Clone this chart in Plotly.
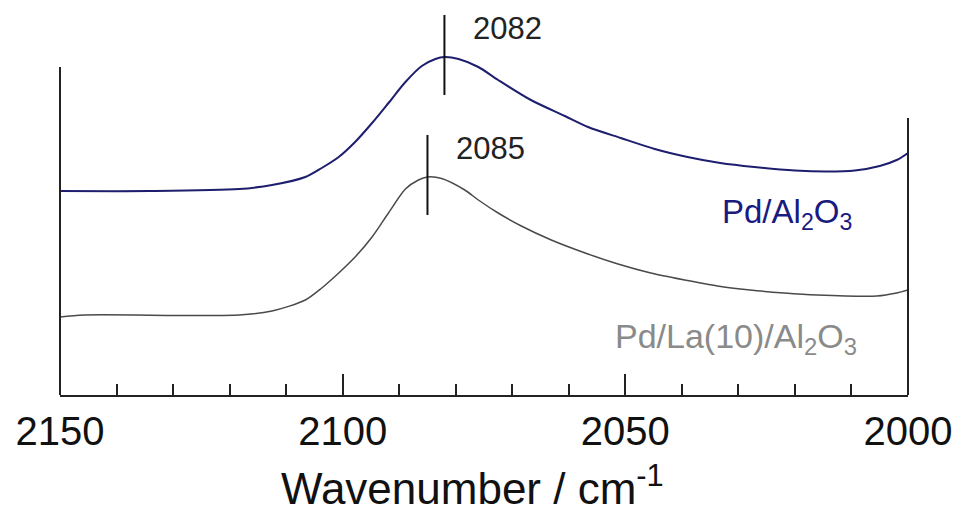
import plotly.graph_objects as go

# IR spectra of adsorbed CO (linear band region), offset for clarity
wn_al2o3 = [2150, 2134.2, 2118.3, 2112.5, 2106.6, 2103.7, 2100.7, 2097.8, 2094.8, 2091.9,
            2088.9, 2086.0, 2083.6, 2082.0, 2079.5, 2076.0, 2072.5, 2066.7, 2060.7, 2056.6,
            2050.8, 2044.8, 2039.0, 2033.2, 2027.2, 2020.0, 2014.3, 2009.4, 2005.0, 2002.0,
            2000]
abs_al2o3 = [2.04, 2.04, 2.06, 2.10, 2.18, 2.27, 2.38, 2.53, 2.72, 2.92,
             3.13, 3.29, 3.36, 3.38, 3.36, 3.28, 3.15, 2.95, 2.79, 2.68,
             2.57, 2.46, 2.38, 2.32, 2.28, 2.245, 2.235, 2.245, 2.29, 2.35,
             2.42]

wn_la = [2150, 2145.7, 2118.3, 2112.5, 2106.6, 2103.7, 2100.7, 2097.8, 2094.8, 2091.9,
         2088.9, 2086.6, 2085.0, 2082.5, 2078.4, 2076.0, 2072.5, 2068.4, 2063.1, 2057.1,
         2051.3, 2045.5, 2039.5, 2033.7, 2027.9, 2021.9, 2016.1, 2005.5, 2002.0, 2000]
abs_la = [0.78, 0.80, 0.80, 0.84, 0.95, 1.07, 1.22, 1.38, 1.58, 1.82,
          2.06, 2.15, 2.18, 2.165, 2.05, 1.95, 1.82, 1.69, 1.55, 1.42,
          1.31, 1.22, 1.15, 1.09, 1.05, 1.02, 1.00, 0.99, 1.02, 1.05]

# peak maxima marked on each spectrum: (wavenumber, marker bottom, marker top)
peaks = [(2082, 3.00, 3.80), (2085, 1.80, 2.60)]

sample_labels = ["Pd/Al<sub>2</sub>O<sub>3</sub>", "Pd/La(10)/Al<sub>2</sub>O<sub>3</sub>"]
tick_vals = [2150, 2100, 2050, 2000]

NAVY = "#1e1e6e"
GREY_LINE = "#4a4a4a"
GREY_TEXT = "#8a8a8a"
FONT = "Liberation Sans, Arial, sans-serif"

fig = go.Figure()
fig.add_trace(go.Scatter(x=wn_al2o3, y=abs_al2o3, mode="lines",
                         line=dict(color=NAVY, width=2, shape="spline", smoothing=0.8),
                         hoverinfo="skip", showlegend=False))
fig.add_trace(go.Scatter(x=wn_la, y=abs_la, mode="lines",
                         line=dict(color=GREY_LINE, width=1.5, shape="spline", smoothing=0.8),
                         hoverinfo="skip", showlegend=False))

shapes = []
# left and right frame lines (different heights)
shapes.append(dict(type="line", xref="paper", yref="y", x0=0, x1=0, y0=0, y1=3.28,
                   line=dict(color="#222", width=2)))
shapes.append(dict(type="line", xref="paper", yref="y", x0=1, x1=1, y0=0, y1=2.77,
                   line=dict(color="#222", width=2)))
annotations = []
for wn, y0, y1 in peaks:
    shapes.append(dict(type="line", xref="x", yref="y", x0=wn, x1=wn, y0=y0, y1=y1,
                       line=dict(color="#111", width=2)))
    annotations.append(dict(x=wn, y=y1 - 0.13, xref="x", yref="y", text=str(wn),
                            showarrow=False, xanchor="left", yanchor="middle", xshift=27,
                            font=dict(family=FONT, size=31, color="#222")))

annotations.append(dict(x=2033.3, y=1.81, xref="x", yref="y", text=sample_labels[0],
                        showarrow=False, xanchor="left", yanchor="middle",
                        font=dict(family=FONT, size=33, color="#1a1a80")))
annotations.append(dict(x=2052.2, y=0.57, xref="x", yref="y", text=sample_labels[1],
                        showarrow=False, xanchor="left", yanchor="middle",
                        font=dict(family=FONT, size=34, color=GREY_TEXT)))
annotations.append(dict(x=0.486, y=-0.235, xref="paper", yref="paper",
                        text="Wavenumber / cm<sup>-1</sup>", showarrow=False,
                        xanchor="center", yanchor="middle",
                        font=dict(family=FONT, size=44, color="#111")))

fig.update_layout(
    width=962, height=513,
    margin=dict(l=60, r=50, t=10, b=118),
    paper_bgcolor="white", plot_bgcolor="white",
    shapes=shapes, annotations=annotations,
    xaxis=dict(range=[2150, 2000], tickmode="array", tickvals=tick_vals,
               ticks="inside", ticklen=21, tickwidth=2, tickcolor="#222",
               showline=True, linewidth=2, linecolor="#222", showgrid=False,
               zeroline=False, ticklabelstandoff=0,
               tickfont=dict(family=FONT, size=40, color="#111"),
               minor=dict(dtick=10, tick0=2000, ticks="inside", ticklen=11,
                          tickwidth=1.5, tickcolor="#222", showgrid=False)),
    yaxis=dict(range=[0, 3.85], visible=False, showgrid=False, zeroline=False),
)

fig.write_html("out.html")
